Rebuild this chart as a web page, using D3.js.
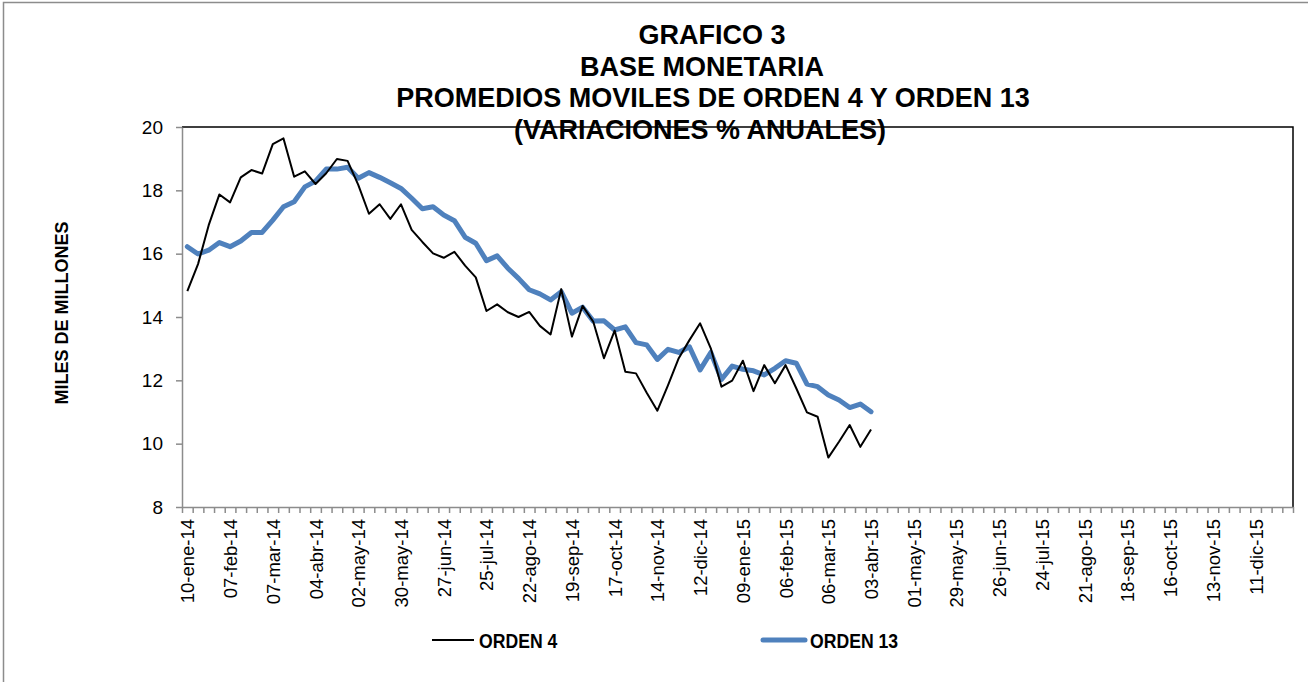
<!DOCTYPE html>
<html>
<head>
<meta charset="utf-8">
<script src="https://cdn.jsdelivr.net/npm/d3@7"></script>
<style>
body{margin:0;background:#fff}
text{font-family:"Liberation Sans",Arial,sans-serif;fill:#000}
</style>
</head>
<body>
<svg></svg>
<script>
// Grafico 3 - base monetaria, promedios moviles

var screen = {width:1308,height:682}
var plot = {left:182,right:1293,top:127,bottom:507}

// weekly categories on the axis (10-ene-14 .. 01-ene-16)
var weeks = 104

var tickLabels = ["10-ene-14","07-feb-14","07-mar-14","04-abr-14","02-may-14","30-may-14",
  "27-jun-14","25-jul-14","22-ago-14","19-sep-14","17-oct-14","14-nov-14","12-dic-14",
  "09-ene-15","06-feb-15","06-mar-15","03-abr-15","01-may-15","29-may-15","26-jun-15",
  "24-jul-15","21-ago-15","18-sep-15","16-oct-15","13-nov-15","11-dic-15"]

var orden4 = [14.82,15.67,16.90,17.87,17.62,18.41,18.64,18.53,19.46,19.64,
  18.43,18.60,18.20,18.54,18.99,18.93,18.17,17.26,17.56,17.10,
  17.56,16.75,16.37,16.01,15.87,16.06,15.62,15.25,14.19,14.40,
  14.15,14.00,14.16,13.72,13.45,14.88,13.38,14.35,13.85,12.70,
  13.57,12.27,12.22,11.61,11.04,11.85,12.70,13.27,13.80,13.01,
  11.80,11.99,12.62,11.66,12.48,11.91,12.48,11.75,10.99,10.85,
  9.56,10.06,10.59,9.90,10.45]

var orden13 = [16.22,15.99,16.11,16.35,16.22,16.40,16.67,16.67,17.06,17.48,
  17.64,18.11,18.29,18.67,18.67,18.73,18.38,18.56,18.41,18.24,
  18.06,17.75,17.42,17.48,17.22,17.04,16.52,16.33,15.78,15.93,
  15.54,15.22,14.86,14.73,14.54,14.80,14.12,14.31,13.87,13.88,
  13.59,13.69,13.19,13.12,12.66,12.98,12.88,13.06,12.33,12.88,
  12.03,12.45,12.35,12.30,12.17,12.38,12.62,12.54,11.88,11.80,
  11.54,11.38,11.14,11.25,11.01]

var yTicks = [8,10,12,14,16,18,20]

var titleLines = ["GRAFICO 3","BASE MONETARIA","PROMEDIOS MOVILES DE ORDEN 4 Y ORDEN 13","(VARIACIONES % ANUALES)"]
var yTitle = "MILES DE MILLONES"
var legendNames = ["ORDEN 4","ORDEN 13"]

var svg = d3.select("svg")
  .attr("width",screen.width)
  .attr("height",screen.height)

// outer chart frame (cut at right and bottom)
svg.append("path")
  .attr("d","M3.5,"+(screen.height+5)+"V2.5H"+(screen.width+5))
  .attr("fill","none")
  .attr("stroke","#8c8c8c")
  .attr("stroke-width",1.5)

var xScale = d3.scaleLinear()
  .domain([0,weeks])
  .range([plot.left,plot.right])

var yScale = d3.scaleLinear()
  .domain([8,20])
  .range([plot.bottom,plot.top])

// plot area border top and right
svg.append("path")
  .attr("d","M"+plot.left+","+plot.top+"H"+plot.right+"V"+plot.bottom)
  .attr("fill","none")
  .attr("stroke","#000")
  .attr("stroke-width",1.5)

// minor ticks on every week
var minorAxis = d3.axisBottom(xScale)
  .tickValues(d3.range(0,weeks+1))
  .tickSize(6)
  .tickSizeOuter(0)
  .tickFormat("")

svg.append("g")
  .attr("class","xminor")
  .attr("transform","translate(0,"+plot.bottom+")")
  .call(minorAxis)

var labelAxis = d3.axisBottom(xScale)
  .tickValues(tickLabels.map(function(d,i){return i*4+0.5}))
  .tickSize(0)
  .tickFormat(function(d,i){return tickLabels[i]})

var xl = svg.append("g")
  .attr("class","xlabels")
  .attr("transform","translate(0,"+plot.bottom+")")
  .call(labelAxis)
xl.select(".domain").remove()
xl.selectAll("text")
  .attr("transform","rotate(-90)")
  .attr("x",-12)
  .attr("y",0)
  .attr("dy","0.35em")
  .attr("text-anchor","end")
  .style("font-size","18.5px")
  .style("font-family","'Liberation Sans',Arial,sans-serif")

var yAxis = d3.axisLeft(yScale)
  .tickValues(yTicks)
  .tickSize(6)
  .tickSizeOuter(0)
  .tickPadding(13)

var ya = svg.append("g")
  .attr("class","yaxis")
  .attr("transform","translate("+plot.left+",0)")
  .call(yAxis)
ya.selectAll("text")
  .style("font-size","19px")
  .style("font-family","'Liberation Sans',Arial,sans-serif")

svg.selectAll(".xminor path, .xminor line, .yaxis path, .yaxis line")
  .attr("stroke","#8c8c8c")
  .attr("stroke-width",1.5)

// series
var line = d3.line()
  .x(function(d,i){return xScale(i+0.5)})
  .y(function(d){return yScale(d)})

svg.append("path")
  .datum(orden13)
  .attr("d",line)
  .attr("fill","none")
  .attr("stroke","#4f81bd")
  .attr("stroke-width",5)
  .attr("stroke-linejoin","round")
  .attr("stroke-linecap","round")

svg.append("path")
  .datum(orden4)
  .attr("d",line)
  .attr("fill","none")
  .attr("stroke","#000")
  .attr("stroke-width",2)
  .attr("stroke-linejoin","round")

// titles
var titleX = [712,702,713,700]

svg.append("g")
  .selectAll("text")
  .data(titleLines)
  .enter()
  .append("text")
  .attr("x",function(d,i){return titleX[i]})
  .attr("y",function(d,i){return 44+i*31.5})
  .attr("text-anchor","middle")
  .style("font-size","27px")
  .style("font-weight","bold")
  .text(function(d){return d})

svg.append("text")
  .attr("transform","translate(68,313) rotate(-90)")
  .attr("text-anchor","middle")
  .style("font-size","18px")
  .style("font-weight","bold")
  .text(yTitle)

// legend
var legend = [
  {name:legendNames[0],color:"#000",width:2,x:432},
  {name:legendNames[1],color:"#4f81bd",width:5,x:763}
]

var lg = svg.append("g")
  .selectAll("g")
  .data(legend)
  .enter()
  .append("g")
  .attr("transform",function(d){return "translate("+d.x+",640)"})

lg.append("line")
  .attr("x1",0)
  .attr("x2",42)
  .attr("stroke",function(d){return d.color})
  .attr("stroke-width",function(d){return d.width})
  .attr("stroke-linecap",function(d){return d.width>2 ? "round" : "butt"})

lg.append("text")
  .attr("transform","translate(47,7.5) scale(0.84,1)")
  .style("font-size","21px")
  .style("font-weight","bold")
  .text(function(d){return d.name})
</script>
</body>
</html>
